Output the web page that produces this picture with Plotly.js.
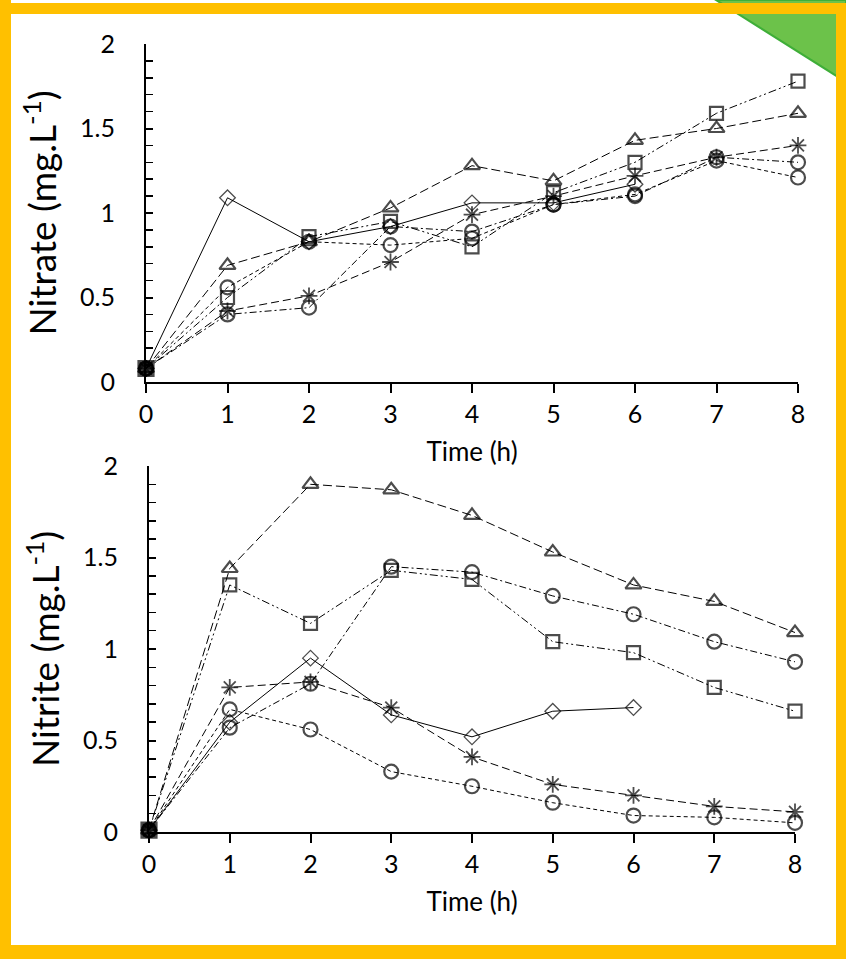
<!DOCTYPE html>
<html><head><meta charset="utf-8">
<script src="https://cdn.plot.ly/plotly-3.0.1.min.js"></script>
<style>html,body{margin:0;padding:0;background:#fff}</style>
</head><body><div id="chart" style="width:846px;height:959px"></div>
<script>
const time = [0,1,2,3,4,5,6,7,8];
const timeDiamond = [0,1,2,3,4,5,6];

const nitrateDiamond  = [0.08,1.09,0.83,0.92,1.06,1.06,1.17];
const nitrateTriangle = [0.08,0.69,0.83,1.03,1.28,1.19,1.43,1.50,1.59];
const nitrateSquare   = [0.08,0.50,0.86,0.95,0.80,1.12,1.30,1.59,1.78];
const nitrateStar     = [0.08,0.42,0.51,0.71,0.99,1.10,1.22,1.33,1.40];
const nitrateCircleA  = [0.08,0.40,0.44,0.92,0.89,1.05,1.10,1.33,1.30];
const nitrateCircleB  = [0.08,0.56,0.83,0.81,0.85,1.05,1.11,1.31,1.21];

const nitriteDiamond  = [0.01,0.60,0.95,0.64,0.52,0.66,0.68];
const nitriteTriangle = [0.01,1.44,1.90,1.87,1.73,1.53,1.35,1.26,1.09];
const nitriteSquare   = [0.01,1.35,1.14,1.43,1.38,1.04,0.98,0.79,0.66];
const nitriteStar     = [0.01,0.79,0.82,0.68,0.41,0.26,0.20,0.14,0.11];
const nitriteCircleA  = [0.01,0.57,0.81,1.45,1.42,1.29,1.19,1.04,0.93];
const nitriteCircleB  = [0.01,0.67,0.56,0.33,0.25,0.16,0.09,0.08,0.05];

const W = 846, H = 959;
const px = v => v / W;
const py = v => 1 - v / H;

function series(x, y, sym, size, lw, dash, xa, ya, first) {
  const symbols = x.map((_, i) => (first && i === 0) ? first : sym);
  const sizes = x.map((_, i) => (first && i === 0) ? 15 : size);
  return {
    x: x, y: y, xaxis: xa, yaxis: ya, type: 'scatter', mode: 'lines+markers',
    cliponaxis: false,
    line: {color: '#000', width: 1, dash: dash},
    marker: {symbol: symbols, size: sizes, color: '#000', line: {color: '#000', width: lw}},
    showlegend: false, hoverinfo: 'x+y'
  };
}

const dLong = '9px,4px';
const dStar = '8px,4px';
const dDashDot = '7px,3px,2px,3px';
const dDashDotDot = '8px,3px,2px,3px,2px,3px';
const dShort = '4px,3px';

const traces = [];
[['x','y', nitrateDiamond, nitrateTriangle, nitrateSquare, nitrateStar, nitrateCircleA, nitrateCircleB],
 ['x2','y2', nitriteDiamond, nitriteTriangle, nitriteSquare, nitriteStar, nitriteCircleA, nitriteCircleB]]
.forEach(([xa, ya, dia, tri, sq, st, ca, cb]) => {
  traces.push(series(time, cb, 'circle-open', 14, 2.2, dShort, xa, ya));
  traces.push(series(time, ca, 'circle-open', 14, 2.2, dDashDot, xa, ya));
  traces.push(series(time, st, 'asterisk-open', 14, 1.8, dStar, xa, ya));
  traces.push(series(time, tri, 'triangle-up-open', 14, 2.2, dLong, xa, ya));
  traces.push(series(timeDiamond, dia, 'diamond-open', 12, 1.3, 'solid', xa, ya));
  traces.push(series(time, sq, 'square-open', 13, 2.2, dDashDotDot, xa, ya, 'square'));
});

const font = {family: 'Lato, "Open Sans", sans-serif', color: '#000'};

function xaxisDef(domain, anchor) {
  return {
    domain: domain, anchor: anchor, range: [0, 8], tickvals: time,
    showgrid: false, zeroline: false, showline: true, linecolor: '#000', linewidth: 2,
    ticks: 'outside', ticklen: 9, tickwidth: 2, tickcolor: '#000',
    tickfont: Object.assign({size: 25}, font),
    title: {text: 'Time (h)', font: Object.assign({size: 26}, font), standoff: 16}
  };
}
function yaxisDef(domain, anchor, label) {
  return {
    domain: domain, anchor: anchor, range: [0, 2], dtick: 0.5, tick0: 0,
    showgrid: false, zeroline: false, showline: true, linecolor: '#000', linewidth: 2,
    ticks: 'inside', ticklen: 7, tickwidth: 2, tickcolor: '#000',
    minor: {dtick: 0.1, ticks: 'inside', ticklen: 7, tickwidth: 1.5, tickcolor: '#000', showgrid: false},
    ticklabelstandoff: 24,
    tickfont: Object.assign({size: 25}, font),
    title: {text: label, font: Object.assign({size: 37}, font), standoff: 12}
  };
}

const shapes = [
  {type: 'path', xref: 'paper', yref: 'paper',
   path: `M ${px(716)} ${py(0)} L ${px(846)} ${py(0)} L ${px(846)} ${py(82)} Z`,
   fillcolor: '#6cc24a', line: {color: '#3fae38', width: 2}, layer: 'above'},
  {type: 'rect', xref: 'paper', yref: 'paper', x0: px(0), x1: px(11), y0: py(959), y1: py(0),
   fillcolor: '#ffc000', line: {width: 0}, layer: 'above'},
  {type: 'rect', xref: 'paper', yref: 'paper', x0: px(836), x1: px(846), y0: py(959), y1: py(3),
   fillcolor: '#ffc000', line: {width: 0}, layer: 'above'},
  {type: 'rect', xref: 'paper', yref: 'paper', x0: px(0), x1: px(846), y0: py(14), y1: py(3),
   fillcolor: '#ffc000', line: {width: 0}, layer: 'above'},
  {type: 'rect', xref: 'paper', yref: 'paper', x0: px(0), x1: px(846), y0: py(959), y1: py(945),
   fillcolor: '#ffc000', line: {width: 0}, layer: 'above'}
];

const layout = {
  width: W, height: H, margin: {l: 0, r: 0, t: 0, b: 0},
  paper_bgcolor: '#fff', plot_bgcolor: '#fff', showlegend: false,
  xaxis: xaxisDef([px(146), px(798)], 'y'),
  yaxis: yaxisDef([py(382), py(44)], 'x', 'Nitrate (mg.L<sup>-1</sup>)'),
  xaxis2: xaxisDef([px(149), px(795)], 'y2'),
  yaxis2: yaxisDef([py(832), py(466)], 'x2', 'Nitrite (mg.L<sup>-1</sup>)'),
  shapes: shapes
};

Plotly.newPlot('chart', traces, layout, {displayModeBar: false, staticPlot: true});
</script>
</body></html>
